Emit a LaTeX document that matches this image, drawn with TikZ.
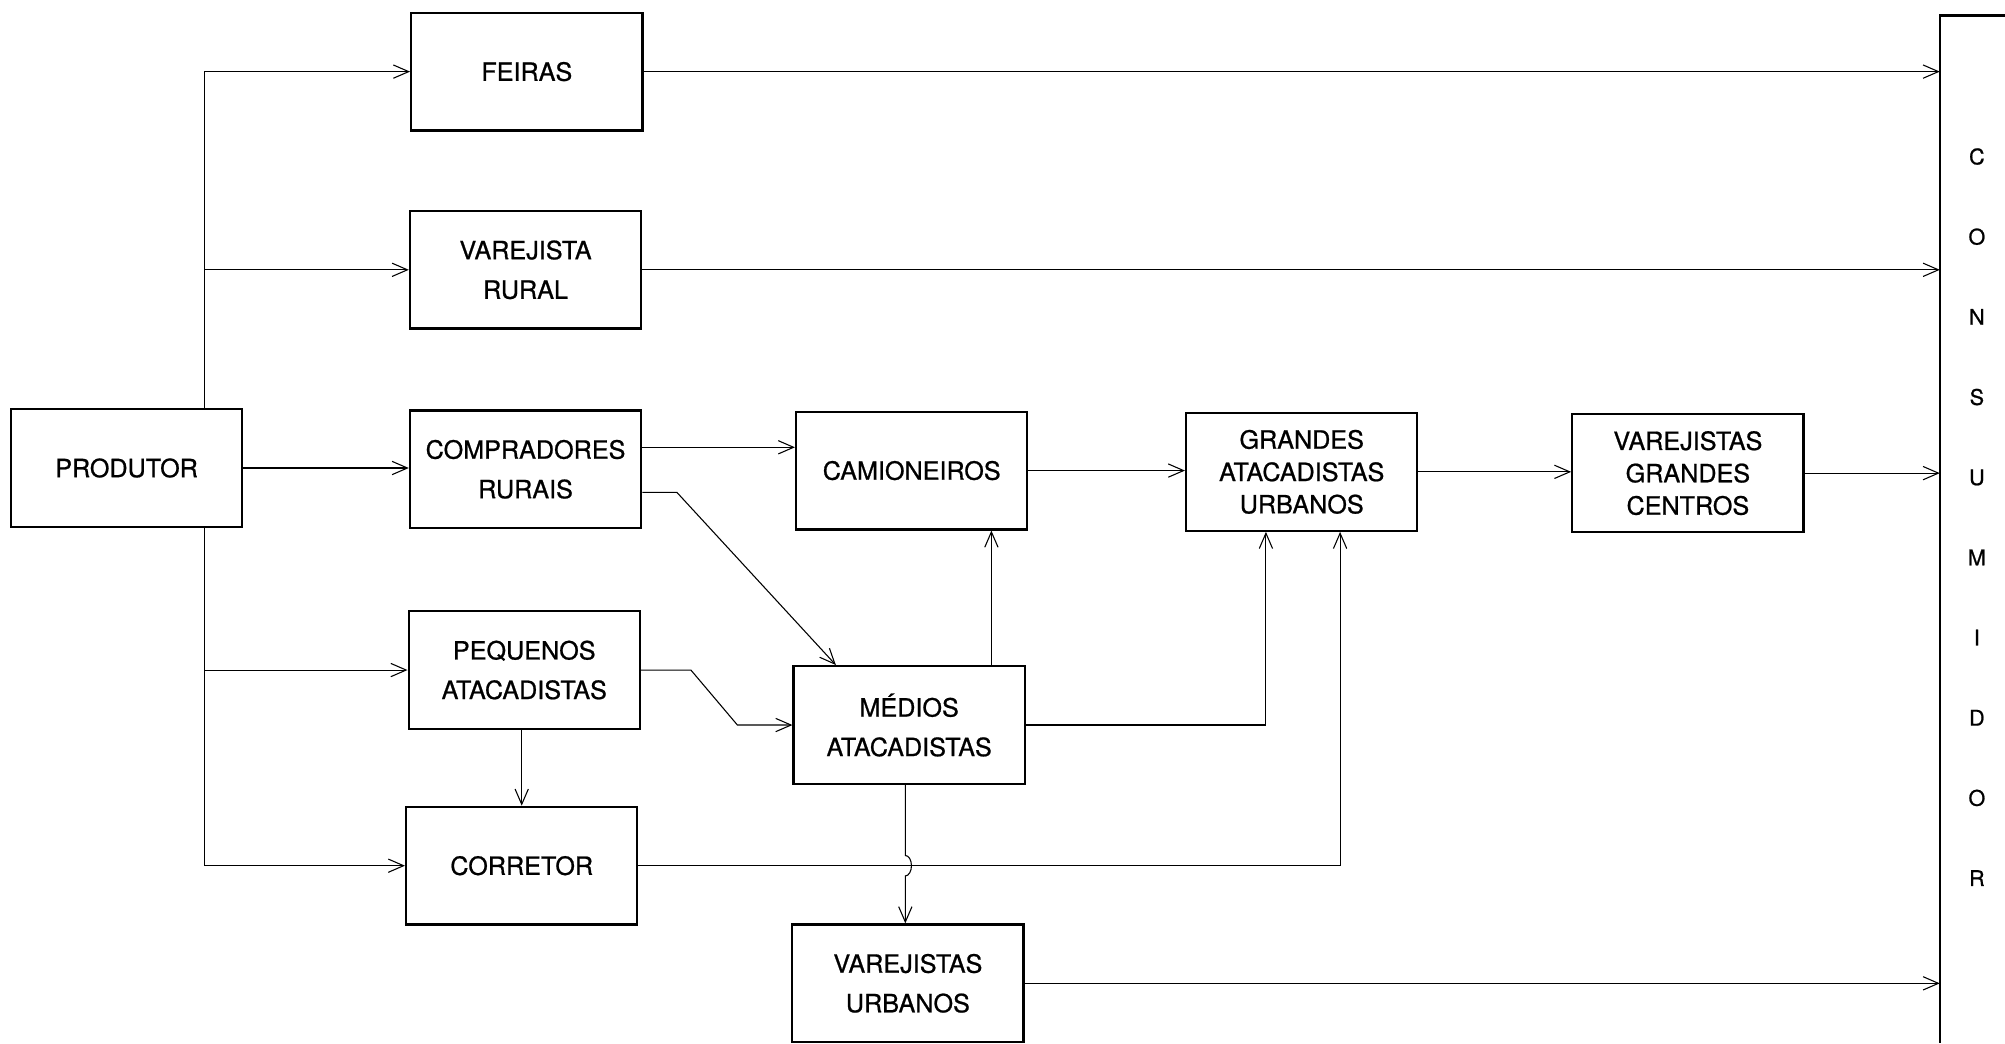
\documentclass[tikz,border=0pt]{standalone}
\usepackage{fontspec}
\setmainfont{TeX Gyre Heros}[FakeBold=0.8]
\usetikzlibrary{arrows.meta}

\begin{document}
\begin{tikzpicture}[
    box/.style={draw, line width=1.3pt, minimum width=4.52cm, minimum height=2.3cm, align=center, font=\fontsize{14}{22}\selectfont},
    tallbox/.style={box, font=\fontsize{14}{18}\selectfont},
    flow/.style={-{Straight Barb[length=3mm,width=2.6mm]}, line width=0.6pt},
  ]
  \useasboundingbox (0,0) rectangle (39.2,-20.4);

  % Boxes
  \node[box] (produtor) at (2.475,-9.15) {PRODUTOR};
  \node[box] (feiras) at (10.3,-1.4) {FEIRAS};
  \node[box] (varrural) at (10.275,-5.275) {VAREJISTA\\RURAL};
  \node[box] (compradores) at (10.275,-9.175) {COMPRADORES\\RURAIS};
  \node[box] (pequenos) at (10.25,-13.1) {PEQUENOS\\ATACADISTAS};
  \node[box] (corretor) at (10.2,-16.925) {CORRETOR};
  \node[box] (camioneiros) at (17.825,-9.2) {CAMIONEIROS};
  \node[box] (medios) at (17.775,-14.175) {MÉDIOS\\ATACADISTAS};
  \node[box] (varurbanos) at (17.75,-19.225) {VAREJISTAS\\URBANOS};
  \node[tallbox] (grandes) at (25.45,-9.225) {GRANDES\\ATACADISTAS\\URBANOS};
  \node[tallbox] (vargrandes) at (33,-9.25) {VAREJISTAS\\GRANDES\\CENTROS};

  % Consumidor, open frame running off the page
  \node[font=\fontsize{12}{44.6}\selectfont, align=center] (consumidor) at (38.65,-10.11) {C\\O\\N\\S\\U\\M\\I\\D\\O\\R};
  \coordinate (cons) at (37.925,-0.3);
  \draw[line width=1.3pt] (39.2,-0.3) -- (cons) -- (37.925,-20.4);

  % Produtor trunk
  \coordinate (trunk) at (4.0,-9.15);
  \draw[flow] (produtor.north -| trunk) |- (feiras.west);
  \draw[flow] (trunk |- varrural.west) -- (varrural.west);
  \draw[flow] (produtor.south -| trunk) |- (corretor.west);
  \draw[flow] (trunk |- pequenos.west) -- (pequenos.west);
  \draw[flow] (produtor.east) -- (produtor.east -| compradores.west);

  % Straight to the consumer
  \draw[flow] (feiras.east) -- (feiras.east -| cons);
  \draw[flow] (varrural.east) -- (varrural.east -| cons);
  \draw[flow] (vargrandes.east) -- (vargrandes.east -| cons);
  \draw[flow] (varurbanos.east) -- (varurbanos.east -| cons);

  % Middle chain
  \coordinate (cr up) at ([yshift=4.3mm]compradores.east);
  \draw[flow] (cr up) -- (cr up -| camioneiros.west);
  \draw[flow] ([yshift=-4.5mm]compradores.east) -- ++(0.675,0) -- ([xshift=8.5mm]medios.north west);
  \draw[flow] (pequenos.east) -- ++(0.975,0) -- ([xshift=-10.75mm]medios.west) -- (medios.west);
  \draw[flow] (pequenos.south -| corretor.north) -- (corretor.north);
  \coordinate (md up) at ([xshift=-6.75mm]medios.north east);
  \draw[flow] (md up) -- (md up |- camioneiros.south);
  \draw[flow] (camioneiros.east) -- (camioneiros.east -| grandes.west);
  \draw[flow] (medios.east) -| ([xshift=-7mm]grandes.south);
  \draw[flow] (corretor.east) -| ([xshift=7.5mm]grandes.south);
  \draw[flow] (grandes.east) -- (grandes.east -| vargrandes.west);

  % Medios down to varejistas urbanos, hopping over the corretor line
  \coordinate (md down) at ([xshift=-0.75mm]medios.south);
  \coordinate (hop) at (md down |- corretor.east);
  \draw[flow] (md down) -- ([yshift=2mm]hop) arc[start angle=90, end angle=-90, x radius=1.2mm, y radius=2mm] -- (md down |- varurbanos.north);
\end{tikzpicture}
\end{document}
